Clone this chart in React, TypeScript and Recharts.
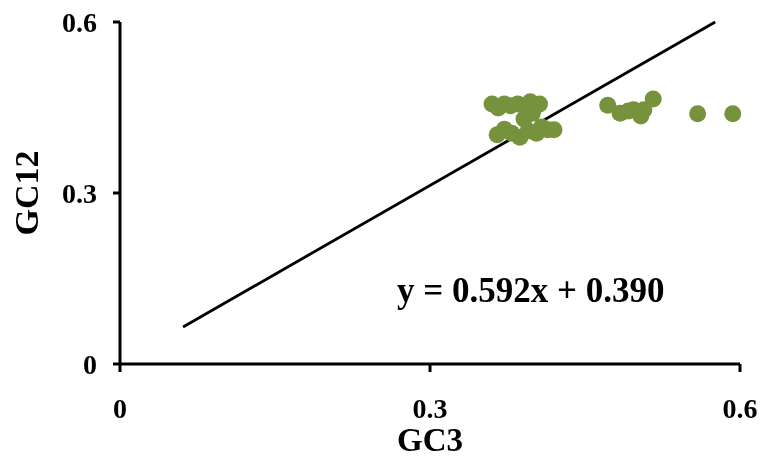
import React from "react";
import {
  ScatterChart,
  Scatter,
  XAxis,
  YAxis,
  ReferenceLine,
  Label,
} from "recharts";

// GC3 vs GC12 per gene
const gc3 = [
  0.365, 0.372, 0.379, 0.387, 0.395, 0.403, 0.408, 0.414, 0.42,
  0.391, 0.399,
  0.36, 0.366, 0.372, 0.378, 0.385, 0.391, 0.397, 0.403, 0.406,
  0.472, 0.484, 0.492, 0.497, 0.504, 0.507, 0.516, 0.559, 0.593,
];
const gc12 = [
  0.402, 0.412, 0.405, 0.398, 0.409, 0.405, 0.416, 0.411, 0.411,
  0.43, 0.44,
  0.456, 0.449, 0.456, 0.453, 0.456, 0.453, 0.46, 0.453, 0.456,
  0.454, 0.44, 0.444, 0.446, 0.435, 0.446, 0.465, 0.439, 0.439,
];
const points = gc3.map((x, i) => ({ x, y: gc12[i] }));

const axisTicks = [0, 0.3, 0.6];
const lineStart = { x: 0.061, y: 0.065 };
const lineEnd = { x: 0.576, y: 0.6 };
const equation = "y = 0.592x + 0.390";

const serif = "'Liberation Serif', 'Times New Roman', serif";
const tickStyle = { fill: "#000", fontFamily: serif, fontWeight: 700, fontSize: 28 };

const Dot = (props: any) => (
  <circle cx={props.cx} cy={props.cy} r={8.5} fill="#76923C" />
);

export default function App() {
  return (
    <div style={{ position: "fixed", left: 0, top: 0 }}>
      <ScatterChart
        width={761}
        height={459}
        margin={{ top: 22, right: 21, bottom: 35, left: 60 }}
      >
        <XAxis
          type="number"
          dataKey="x"
          domain={[0, 0.6]}
          ticks={axisTicks}
          tick={tickStyle}
          tickSize={8}
          tickMargin={26}
          height={60}
          axisLine={{ stroke: "#000", strokeWidth: 3 }}
          tickLine={{ stroke: "#000", strokeWidth: 3 }}
        >
          <Label
            content={() => (
              <text
                x={430}
                y={451}
                textAnchor="middle"
                fontFamily={serif}
                fontWeight={700}
                fontSize={33}
                fill="#000"
              >
                GC3
              </text>
            )}
          />
        </XAxis>
        <YAxis
          type="number"
          dataKey="y"
          domain={[0, 0.6]}
          ticks={axisTicks}
          tick={tickStyle}
          tickSize={7}
          tickMargin={16}
          width={60}
          axisLine={{ stroke: "#000", strokeWidth: 3 }}
          tickLine={{ stroke: "#000", strokeWidth: 3 }}
        >
          <Label
            content={() => (
              <text
                x={38}
                y={193}
                transform="rotate(-90 38 193)"
                textAnchor="middle"
                fontFamily={serif}
                fontWeight={700}
                fontSize={34}
                fill="#000"
              >
                GC12
              </text>
            )}
          />
        </YAxis>
        <ReferenceLine
          segment={[lineStart, lineEnd]}
          stroke="#000"
          strokeWidth={2.8}
          ifOverflow="visible"
        />
        <Scatter data={points} shape={Dot} isAnimationActive={false} />
        <text
          x={397}
          y={302}
          fontFamily={serif}
          fontWeight={700}
          fontSize={35}
          fill="#000"
        >
          {equation}
        </text>
      </ScatterChart>
    </div>
  );
}
